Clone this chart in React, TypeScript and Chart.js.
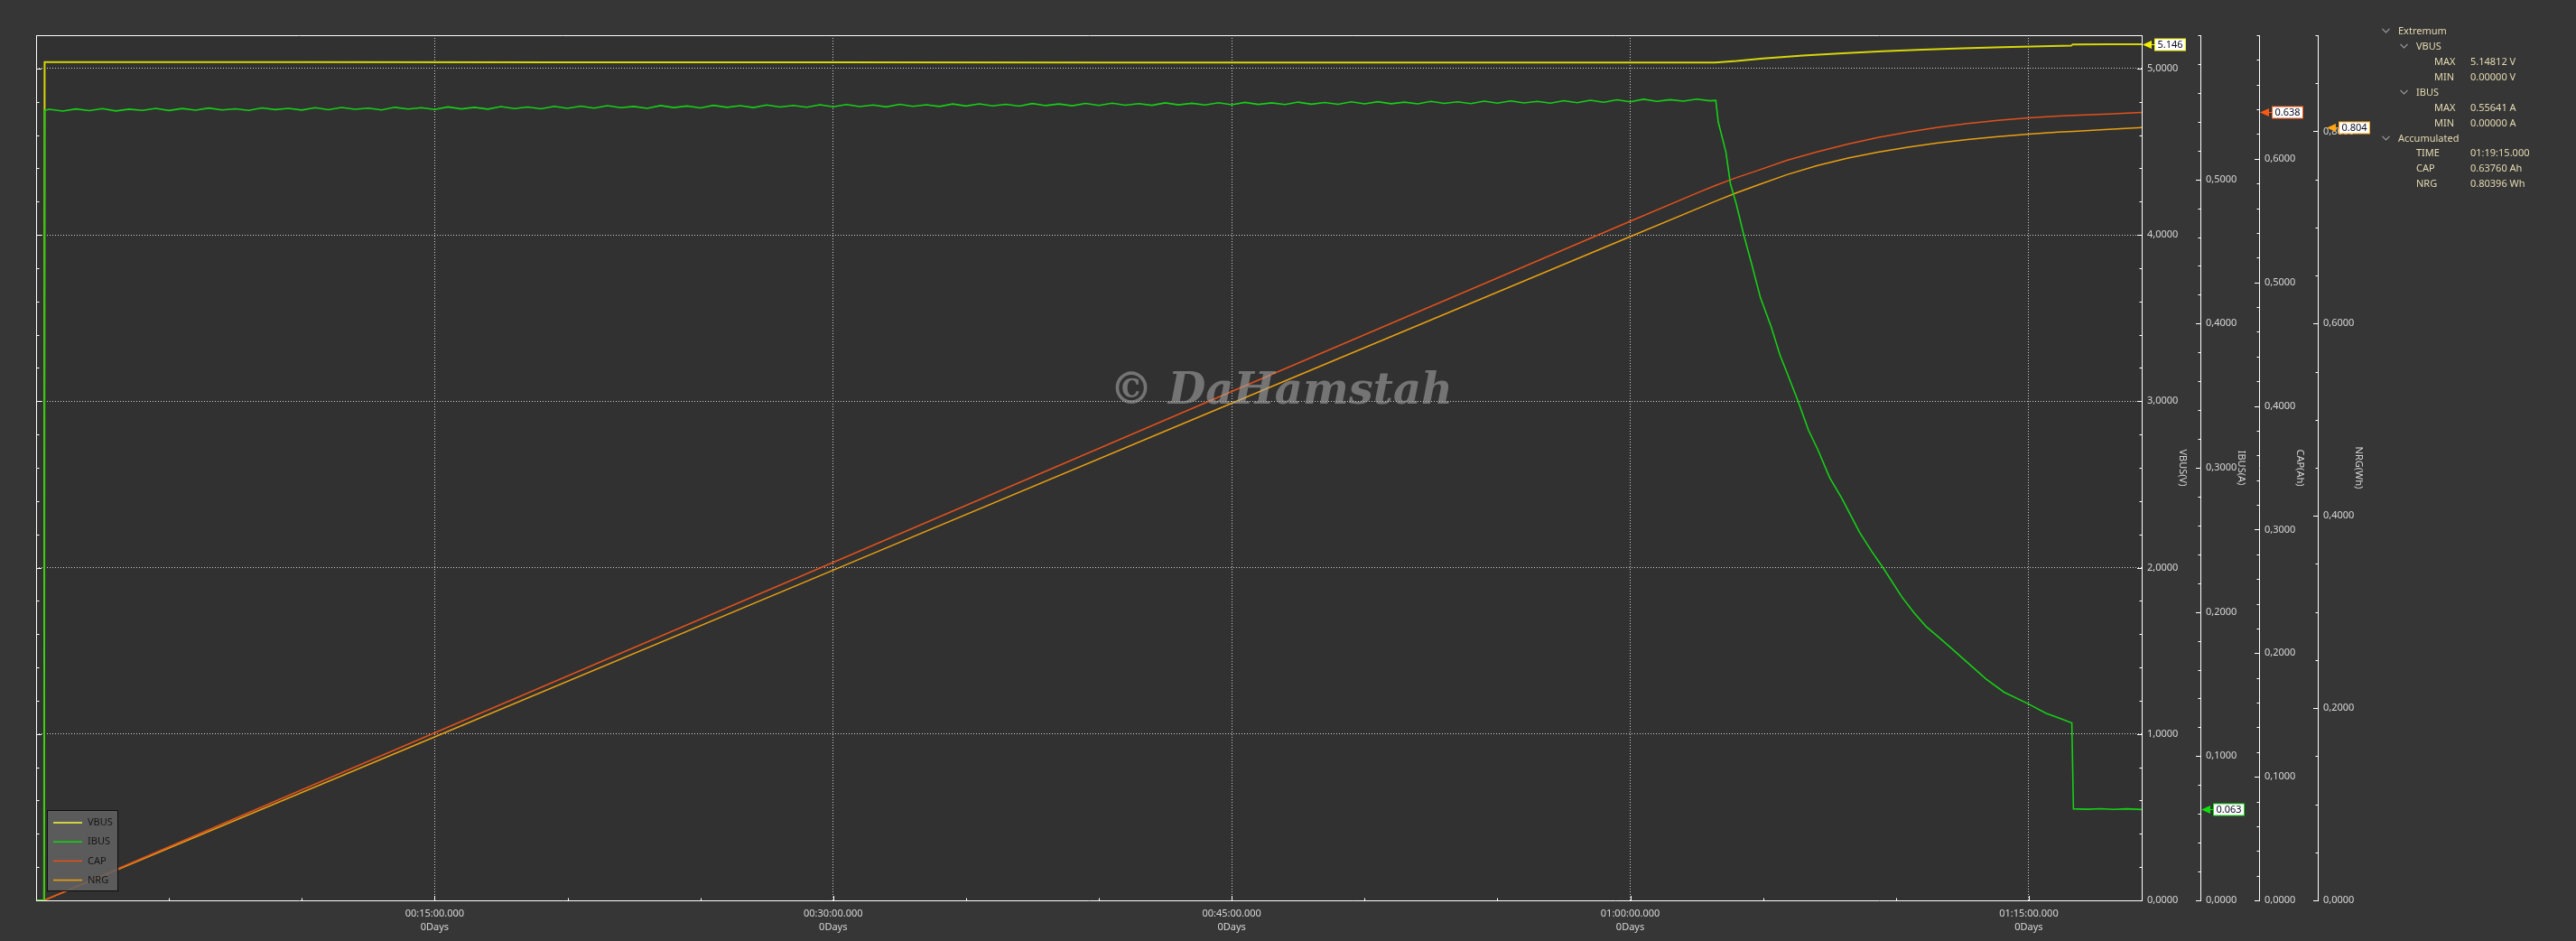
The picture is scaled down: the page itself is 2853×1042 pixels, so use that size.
import React, { useEffect, useRef } from 'react';
import { Chart, registerables } from 'chart.js';

Chart.register(...registerables);

const W = 2853;
const H = 1042;

// ---------- data (x = minutes since start) ----------
const X_MAX = 79.25;

const seriesLabels = ['VBUS', 'IBUS', 'CAP', 'NRG'];
const seriesColors = ['#d6d60c', '#16cf16', '#e0521c', '#e9a012'];
const tagColors = ['#f0f000', '#10e010', '#ff5a14', '#ffa514'];

const vbusTimes = [0, 0.3, 0.32, 10, 20, 30, 40, 50, 60, 63.2, 64, 65, 66.5, 68, 69.5, 71, 72.5, 74, 75.5, 76.6, 76.65, 78, 79.25];
const vbusValues = [0, 0, 5.038, 5.038, 5.037, 5.037, 5.036, 5.036, 5.036, 5.036, 5.045, 5.06, 5.078, 5.092, 5.104, 5.113, 5.121, 5.128, 5.133, 5.137, 5.145, 5.146, 5.146];

const ibusLeadTimes = [0, 0.3, 0.32];
const ibusLeadValues = [0, 0, 0.5479];
// steady part, sampled every 0.5 min from 0.5 to 63.0
const ibusSteadyStart = 0.5;
const ibusSteadyStep = 0.5;
const ibusSteadyValues = [
  0.5486, 0.5474, 0.5489, 0.5477, 0.5491, 0.5475, 0.5487, 0.5479, 0.5493, 0.5478,
  0.5492, 0.5480, 0.5495, 0.5482, 0.5490, 0.5479, 0.5496, 0.5484, 0.5493, 0.5481,
  0.5497, 0.5483, 0.5499, 0.5486, 0.5494, 0.5482, 0.5500, 0.5488, 0.5497, 0.5485,
  0.5503, 0.5489, 0.5500, 0.5487, 0.5505, 0.5491, 0.5502, 0.5490, 0.5507, 0.5493,
  0.5508, 0.5494, 0.5511, 0.5497, 0.5506, 0.5493, 0.5512, 0.5498, 0.5509, 0.5496,
  0.5514, 0.5500, 0.5511, 0.5498, 0.5516, 0.5502, 0.5513, 0.5501, 0.5518, 0.5504,
  0.5519, 0.5505, 0.5516, 0.5503, 0.5521, 0.5507, 0.5518, 0.5506, 0.5523, 0.5509,
  0.5524, 0.5510, 0.5521, 0.5508, 0.5526, 0.5512, 0.5523, 0.5511, 0.5527, 0.5513,
  0.5529, 0.5515, 0.5526, 0.5514, 0.5531, 0.5517, 0.5528, 0.5516, 0.5532, 0.5518,
  0.5534, 0.5520, 0.5531, 0.5519, 0.5536, 0.5522, 0.5533, 0.5521, 0.5538, 0.5524,
  0.5539, 0.5525, 0.5536, 0.5524, 0.5541, 0.5527, 0.5538, 0.5526, 0.5543, 0.5529,
  0.5544, 0.5530, 0.5541, 0.5529, 0.5546, 0.5532, 0.5549, 0.5535, 0.5552, 0.5538,
  0.5556, 0.5541, 0.5553, 0.5543, 0.5557, 0.5545,
];
const ibusTailTimes = [63.22, 63.31, 63.6, 63.77, 63.99, 64.28, 64.56, 64.9, 65.3, 65.64, 65.92, 66.32, 66.71, 67.05, 67.51, 67.96, 68.64, 69.09, 69.54, 70.22, 70.68, 71.13, 71.58, 72.04, 72.71, 73.39, 74.07, 74.98, 75.66, 76.11, 76.62, 76.68, 77.2, 77.7, 78.2, 78.7, 79.25];
const ibusTailValues = [0.5548, 0.540, 0.519, 0.497, 0.483, 0.461, 0.442, 0.418, 0.398, 0.378, 0.365, 0.346, 0.326, 0.313, 0.293, 0.279, 0.255, 0.242, 0.230, 0.2105, 0.1995, 0.190, 0.183, 0.1756, 0.1646, 0.1535, 0.1444, 0.1363, 0.1297, 0.1267, 0.123, 0.0635, 0.0632, 0.0636, 0.0631, 0.0635, 0.063];

const capTimes = [0.3, 15, 30, 44.9, 60, 62.52, 63.22, 64.0, 64.79, 65.9, 67.05, 68.2, 69.32, 70.45, 71.58, 72.7, 73.85, 75.0, 76.11, 76.68, 78.0, 79.25];
const capValues = [0, 0.1355, 0.2735, 0.4108, 0.5495, 0.5724, 0.5785, 0.5848, 0.5905, 0.5988, 0.6058, 0.6119, 0.6173, 0.6216, 0.6254, 0.6285, 0.6311, 0.6331, 0.6346, 0.6352, 0.6363, 0.6376];

const nrgTimes = [0.3, 15, 30, 44.9, 60, 62.52, 63.22, 64.0, 64.79, 65.9, 67.05, 68.2, 69.32, 70.45, 71.58, 72.7, 73.85, 75.0, 76.11, 76.68, 78.0, 79.25];
const nrgValues = [0, 0.1700, 0.3435, 0.5160, 0.6905, 0.7195, 0.7275, 0.7360, 0.7440, 0.7550, 0.7645, 0.7722, 0.7784, 0.7836, 0.7879, 0.7914, 0.7945, 0.7971, 0.7992, 0.8000, 0.8020, 0.8040];

// axes
const axisTitles = ['VBUS(V)', 'IBUS(A)', 'CAP(Ah)', 'NRG(Wh)'];
const axisMax = [5.2, 0.6, 0.7, 0.9];
const axisStep = [0.2, 0.02, 0.02, 0.05];
const axisLabelEvery = [1, 0.1, 0.1, 0.2];
const xStepMinutes = 5;
const xLabelEveryMinutes = 15;

// info panel
const infoRows = [
  { level: 0, chevron: true, label: 'Extremum', value: '' },
  { level: 1, chevron: true, label: 'VBUS', value: '' },
  { level: 2, chevron: false, label: 'MAX', value: '5.14812 V' },
  { level: 2, chevron: false, label: 'MIN', value: '0.00000 V' },
  { level: 1, chevron: true, label: 'IBUS', value: '' },
  { level: 2, chevron: false, label: 'MAX', value: '0.55641 A' },
  { level: 2, chevron: false, label: 'MIN', value: '0.00000 A' },
  { level: 0, chevron: true, label: 'Accumulated', value: '' },
  { level: 1, chevron: false, label: 'TIME', value: '01:19:15.000' },
  { level: 1, chevron: false, label: 'CAP', value: '0.63760 Ah' },
  { level: 1, chevron: false, label: 'NRG', value: '0.80396 Wh' },
];

const watermark = '\u00A9 DaHamstah';

// ---------- helpers ----------
const FONT = '"Noto Sans", "DejaVu Sans", sans-serif';
const TICK_COLOR = '#d6d6d6';
const GRID_COLOR = '#cfcfcf';
const CLEAR = 'rgba(0,0,0,0)';

const isMultiple = (v: number, m: number) => Math.abs(v / m - Math.round(v / m)) < 1e-6;
const fmtAxis = (v: number) => v.toFixed(4).replace('.', ',');
const pad2 = (n: number) => (n < 10 ? '0' : '') + n;
const fmtTime = (minutes: number) => {
  const totalSec = Math.round(minutes * 60);
  const h = Math.floor(totalSec / 3600);
  const m = Math.floor((totalSec % 3600) / 60);
  const s = totalSec % 60;
  return `${pad2(h)}:${pad2(m)}:${pad2(s)}.000`;
};
const toPoints = (xs: number[], ys: number[]) => xs.map((x, i) => ({ x, y: ys[i] }));

const ibusSteadyTimes = ibusSteadyValues.map((_, i) => ibusSteadyStart + i * ibusSteadyStep);
const ibusTimes = [...ibusLeadTimes, ...ibusSteadyTimes, ...ibusTailTimes];
const ibusValues = [...ibusLeadValues, ...ibusSteadyValues, ...ibusTailValues];

const axisIds = ['yV', 'yI', 'yC', 'yE'];

function makeYAxis(i: number) {
  const max = axisMax[i];
  return {
    type: 'linear',
    position: 'right',
    weight: i,
    min: 0,
    max,
    ticks: {
      stepSize: axisStep[i],
      autoSkip: false,
      padding: 6,
      color: TICK_COLOR,
      font: { family: FONT, size: 11, lineHeight: '15px' },
      callback: (v: number) => (isMultiple(v, axisLabelEvery[i]) && v < max - 1e-9 ? fmtAxis(v) : ''),
    },
    grid: {
      drawTicks: false,
      drawOnChartArea: i === 0,
      lineWidth: 1,
      color: (c: any) => {
        const v = c.tick ? c.tick.value : 0;
        return i === 0 && v > 0 && v < max - 1e-9 && isMultiple(v, 1) ? GRID_COLOR : CLEAR;
      },
    },
    border: { display: true, color: '#ffffff', width: 1, dash: [1, 2] },
    title: {
      display: true,
      text: axisTitles[i],
      color: TICK_COLOR,
      font: { family: FONT, size: 11, lineHeight: '15px' },
      padding: { top: 12.5, bottom: 0 },
    },
    afterFit: (s: any) => {
      s.width = 65;
    },
  };
}

const backgroundPlugin = {
  id: 'bgPlugin',
  beforeDraw(chart: any) {
    const { ctx, chartArea: a } = chart;
    ctx.save();
    ctx.fillStyle = '#363636';
    ctx.fillRect(0, 0, chart.width, chart.height);
    ctx.fillStyle = '#313131';
    ctx.fillRect(a.left, a.top, a.right - a.left, a.bottom - a.top);
    ctx.restore();
  },
};

const overlayPlugin = {
  id: 'overlayPlugin',
  afterDraw(chart: any) {
    const { ctx, chartArea: a } = chart;
    ctx.save();

    // watermark
    ctx.font = `italic bold 48px "DejaVu Serif", serif`;
    ctx.fillStyle = 'rgba(165,165,165,0.58)';
    ctx.textAlign = 'left';
    ctx.textBaseline = 'alphabetic';
    ctx.fillText(watermark, 1229, 447);

    // frame: top & left
    ctx.strokeStyle = '#ffffff';
    ctx.lineWidth = 1;
    ctx.beginPath();
    ctx.moveTo(a.left, Math.round(a.top) + 0.5);
    ctx.lineTo(a.right + 1, Math.round(a.top) + 0.5);
    ctx.moveTo(Math.round(a.left) + 0.5, a.top);
    ctx.lineTo(Math.round(a.left) + 0.5, a.bottom + 1);
    ctx.stroke();

    // y tick marks
    ctx.beginPath();
    axisIds.forEach((id, i) => {
      const s = chart.scales[id];
      const x0 = Math.round(s.left);
      s.ticks.forEach((t: any) => {
        const y = Math.round(s.getPixelForValue(t.value)) + 0.5;
        const major = isMultiple(t.value, axisLabelEvery[i]) && t.value < axisMax[i] - 1e-9;
        const len = major ? 5 : 2.5;
        ctx.moveTo(x0, y);
        ctx.lineTo(x0 - len, y);
        if (i === 0) {
          const lx = Math.round(a.left) + 1;
          ctx.moveTo(lx, y);
          ctx.lineTo(lx + (major ? 5 : 2.5), y);
        }
      });
    });
    // x tick marks
    const xs = chart.scales.x;
    xs.ticks.forEach((t: any) => {
      const x = Math.round(xs.getPixelForValue(t.value)) + 0.5;
      const major = isMultiple(t.value, xLabelEveryMinutes);
      const y0 = Math.round(a.bottom);
      ctx.moveTo(x, y0);
      ctx.lineTo(x, y0 - (major ? 5 : 2.5));
    });
    ctx.stroke();

    // legend box
    const lx = a.left + 12;
    const ly = a.bottom - 100;
    const lw = 79;
    const lh = 90;
    ctx.fillStyle = 'rgba(97,97,97,0.88)';
    ctx.fillRect(lx, ly, lw, lh);
    ctx.strokeStyle = '#0e0e0e';
    ctx.strokeRect(lx + 0.5, ly + 0.5, lw - 1, lh - 1);
    ctx.font = `11px ${FONT}`;
    ctx.textBaseline = 'middle';
    chart.data.datasets.forEach((ds: any, i: number) => {
      const y = ly + 14 + i * 21.2;
      ctx.strokeStyle = i === 0 ? '#f0f040' : ds.borderColor;
      ctx.lineWidth = 1.6;
      ctx.beginPath();
      ctx.moveTo(lx + 7, y);
      ctx.lineTo(lx + 39, y);
      ctx.stroke();
      ctx.fillStyle = '#161616';
      ctx.fillText(ds.label, lx + 45, y);
    });

    // value tags
    ctx.lineWidth = 1;
    chart.data.datasets.forEach((ds: any, i: number) => {
      const s = chart.scales[ds.yAxisID];
      const last = ds.data[ds.data.length - 1].y;
      const y = Math.round(s.getPixelForValue(last)) + 0.5;
      const tip = Math.round(s.left) + 1 + (i === 3 ? 9 : 0);
      const col = tagColors[i];
      ctx.fillStyle = col;
      ctx.strokeStyle = col;
      ctx.beginPath();
      ctx.moveTo(tip, y);
      ctx.lineTo(tip + 10, y - 4.5);
      ctx.lineTo(tip + 10, y + 4.5);
      ctx.closePath();
      ctx.fill();
      ctx.beginPath();
      ctx.moveTo(tip + 9, y);
      ctx.lineTo(tip + 13, y);
      ctx.stroke();
      const text = last.toFixed(3);
      ctx.font = `11px ${FONT}`;
      const tw = ctx.measureText(text).width;
      const bx = tip + 13;
      const bw = Math.round(tw + 7);
      const by = y - 6.5;
      ctx.fillStyle = '#ffffff';
      ctx.fillRect(bx, by, bw, 13);
      ctx.strokeRect(bx + 0.5, by, bw - 1, 13);
      ctx.fillStyle = '#0a0a24';
      ctx.textAlign = 'left';
      ctx.textBaseline = 'middle';
      ctx.fillText(text, bx + 3.5, y + 0.5);
    });

    ctx.restore();
  },
};

function buildConfig(): any {
  const seriesTimes = [vbusTimes, ibusTimes, capTimes, nrgTimes];
  const seriesValues = [vbusValues, ibusValues, capValues, nrgValues];
  const widths = [2, 1.6, 1.5, 1.5];
  const orders = [1, 0, 2, 3];
  const datasets = seriesLabels.map((label, i) => ({
    label,
    data: toPoints(seriesTimes[i], seriesValues[i]),
    yAxisID: axisIds[i],
    borderColor: seriesColors[i],
    backgroundColor: seriesColors[i],
    borderWidth: widths[i],
    pointRadius: 0,
    tension: 0,
    fill: false,
    order: orders[i],
  }));

  const scales: any = {
    x: {
      type: 'linear',
      position: 'bottom',
      min: 0,
      max: X_MAX,
      ticks: {
        stepSize: xStepMinutes,
        autoSkip: false,
        includeBounds: false,
        maxRotation: 0,
        minRotation: 0,
        padding: 7.5,
        color: TICK_COLOR,
        font: { family: FONT, size: 11, lineHeight: '15px' },
        callback: (v: number) => (v > 0 && isMultiple(v, xLabelEveryMinutes) ? [fmtTime(v), '0Days'] : ''),
      },
      grid: {
        drawTicks: false,
        lineWidth: 1,
        color: (c: any) => {
          const v = c.tick ? c.tick.value : 0;
          return v > 0 && v < X_MAX && isMultiple(v, xLabelEveryMinutes) ? GRID_COLOR : CLEAR;
        },
      },
      border: { display: true, color: '#ffffff', width: 1, dash: [1, 2] },
      afterFit: (s: any) => {
        s.height = 45;
      },
    },
  };
  axisIds.forEach((id, i) => {
    scales[id] = makeYAxis(i);
  });

  return {
    type: 'line',
    data: { datasets },
    options: {
      responsive: false,
      maintainAspectRatio: false,
      animation: false,
      devicePixelRatio: 1,
      parsing: true,
      normalized: true,
      layout: { padding: { left: 40, top: 39, right: 221, bottom: 0 } },
      plugins: { legend: { display: false }, tooltip: { enabled: false }, title: { display: false } },
      scales,
    },
    plugins: [backgroundPlugin, overlayPlugin],
  };
}

function Chevron({ x, y }: { x: number; y: number }) {
  return (
    <svg style={{ position: 'absolute', left: x, top: y - 3 }} width={10} height={6}>
      <polyline points="0.5,0.8 4.5,4.8 8.5,0.8" fill="none" stroke="#9c9c9c" strokeWidth={1.2} />
    </svg>
  );
}

export default function App() {
  const ref = useRef<HTMLCanvasElement>(null);
  useEffect(() => {
    Chart.defaults.font.family = FONT;
    const chart = new Chart(ref.current as HTMLCanvasElement, buildConfig());
    return () => chart.destroy();
  }, []);

  const labelX = [2656, 2676, 2696];
  const chevX = [2638, 2658, 2678];
  const textStyle: React.CSSProperties = {
    position: 'absolute',
    fontFamily: FONT,
    fontSize: 11,
    lineHeight: '16px',
    color: '#e4dab2',
    whiteSpace: 'nowrap',
  };

  return (
    <div style={{ position: 'fixed', left: 0, top: 0, width: W, height: H, background: '#363636', overflow: 'hidden' }}>
      <canvas ref={ref} width={W} height={H} style={{ position: 'absolute', left: 0, top: 0, width: W, height: H }} />
      {infoRows.map((r, i) => {
        const cy = 34 + i * 16.93;
        return (
          <React.Fragment key={i}>
            {r.chevron && <Chevron x={chevX[r.level]} y={cy} />}
            <div style={{ ...textStyle, left: labelX[r.level], top: cy - 8 }}>{r.label}</div>
            {r.value && <div style={{ ...textStyle, left: 2736, top: cy - 8 }}>{r.value}</div>}
          </React.Fragment>
        );
      })}
    </div>
  );
}
